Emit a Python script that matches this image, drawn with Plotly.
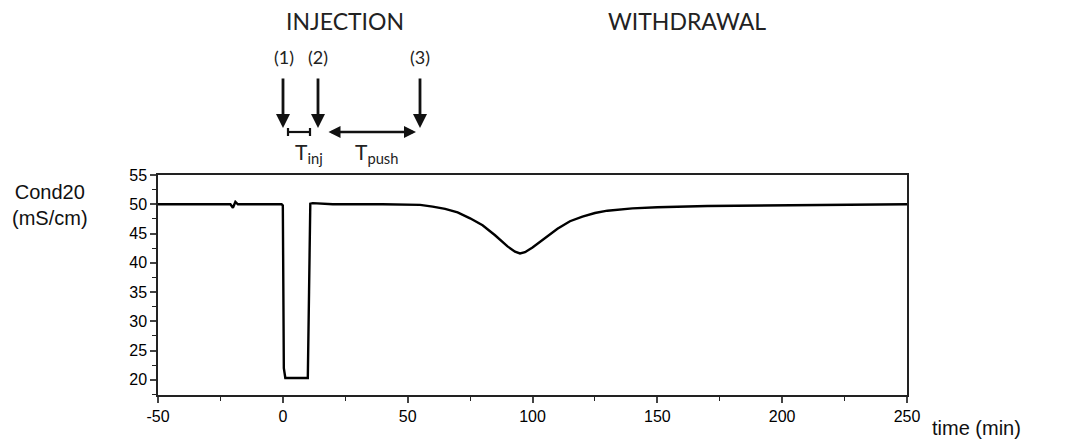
import plotly.graph_objects as go

# conductivity record
time_min = [-50, -30, -21, -20, -19.5, -19, -18, -10, -0.5, 0, 0.4, 1, 9.5, 10, 10.5, 11,
            12, 20, 40, 55, 60, 65, 70, 75, 80, 85, 90, 93, 95, 97, 100, 105, 110, 115,
            120, 125, 130, 140, 150, 170, 200, 230, 250]
cond20 = [50, 50, 50, 49.4, 50.1, 50.4, 50, 50, 50, 49.8, 22, 20.3, 20.3, 20.3, 35, 50.1,
          50.2, 50, 50, 49.9, 49.6, 49.2, 48.6, 47.6, 46.4, 44.7, 42.8, 41.9, 41.6, 41.8,
          42.6, 44.2, 45.8, 47.1, 47.9, 48.5, 48.9, 49.3, 49.5, 49.7, 49.8, 49.9, 50]

x_ticks = [-50, 0, 50, 100, 150, 200, 250]
x_labels = ['-50', '0', '50', '100', '150', '200', '250']
y_ticks = [20, 25, 30, 35, 40, 45, 50, 55]

W, H = 1067, 441
L, R, T, B = 158, 160, 175, 46
PH = H - T - B
PW = W - L - R


def py(p):
    # pixel row -> paper y
    return (H - B - p) / PH


def px(p):
    return (p - L) / PW


fig = go.Figure()
fig.add_trace(go.Scatter(x=time_min, y=cond20, mode='lines',
                         line=dict(color='black', width=2.4), showlegend=False))

tick_font = dict(family='Liberation Sans, Arial', size=16, color='#000')
fig.update_xaxes(range=[-50, 250], tickvals=x_ticks, ticktext=x_labels, ticks='outside',
                 ticklen=6, tickwidth=1.5, showline=True, linecolor='#222', linewidth=1.5,
                 mirror=True, showgrid=False, zeroline=False, tickfont=tick_font,
                 minor=dict(dtick=25, ticks='outside', ticklen=4, tickwidth=1.2,
                            tickcolor='#222', tick0=0))
fig.update_yaxes(range=[17.4, 55], tickvals=y_ticks, ticks='outside', ticklen=6,
                 tickwidth=1.5, showline=True, linecolor='#222', linewidth=1.5,
                 mirror=True, showgrid=False, zeroline=False, tickfont=tick_font,
                 minor=dict(dtick=2.5, ticks='outside', ticklen=4, tickwidth=1.2,
                            tickcolor='#222', tick0=0))

ann_font = dict(family='Lato, Open Sans', color='#222')
notes = [
    ('INJECTION', 345, 21, 23),
    ('WITHDRAWAL', 687, 21, 23),
    ('(1)', 284, 57, 18),
    ('(2)', 318, 57, 18),
    ('(3)', 420, 57, 18),
    ('T<sub>inj</sub>', 309, 153, 21),
    ('T<sub>push</sub>', 376, 153, 21),
]
for txt, x, y, s in notes:
    fig.add_annotation(text=txt, x=px(x), y=py(y), xref='paper', yref='paper',
                       xanchor='center', yanchor='middle',
                       showarrow=False, font=dict(size=s, **ann_font))

# downward arrows
for x in [283, 318, 420]:
    fig.add_annotation(x=px(x), y=py(128), ax=0, ay=-51, xref='paper', yref='paper',
                       text='', showarrow=True, arrowhead=2, arrowsize=1,
                       arrowwidth=2.8, arrowcolor='#111')

# T_push double arrow
fig.add_annotation(x=px(416), y=py(132), ax=-89, ay=0,
                   xref='paper', yref='paper', text='', showarrow=True,
                   arrowhead=2, startarrowhead=2, arrowside='end+start',
                   arrowwidth=2.4, arrowcolor='#111')

# T_inj bar with caps
bar = dict(type='line', xref='paper', yref='paper', line=dict(color='#111', width=2.2))
fig.add_shape(x0=px(288), x1=px(310), y0=py(132), y1=py(132), **bar)
fig.add_shape(x0=px(288), x1=px(288), y0=py(128), y1=py(136), **bar)
fig.add_shape(x0=px(310), x1=px(310), y0=py(128), y1=py(136), **bar)

lab_font = dict(family='Liberation Sans, Arial', size=20, color='#111')
fig.add_annotation(text='Cond20<br>(mS/cm)', x=px(50), y=py(205), xref='paper',
                   yref='paper', xanchor='center', yanchor='middle',
                   showarrow=False, font=lab_font, align='center')
fig.add_annotation(text='time (min)', x=px(976), y=py(428), xref='paper',
                   yref='paper', xanchor='center', yanchor='middle',
                   showarrow=False, font=lab_font)

fig.update_layout(width=W, height=H, margin=dict(l=L, r=R, t=T, b=B),
                  plot_bgcolor='white', paper_bgcolor='white')

fig.write_html("out.html", config={'displayModeBar': False},
               post_script="document.body.style.margin='0';")
